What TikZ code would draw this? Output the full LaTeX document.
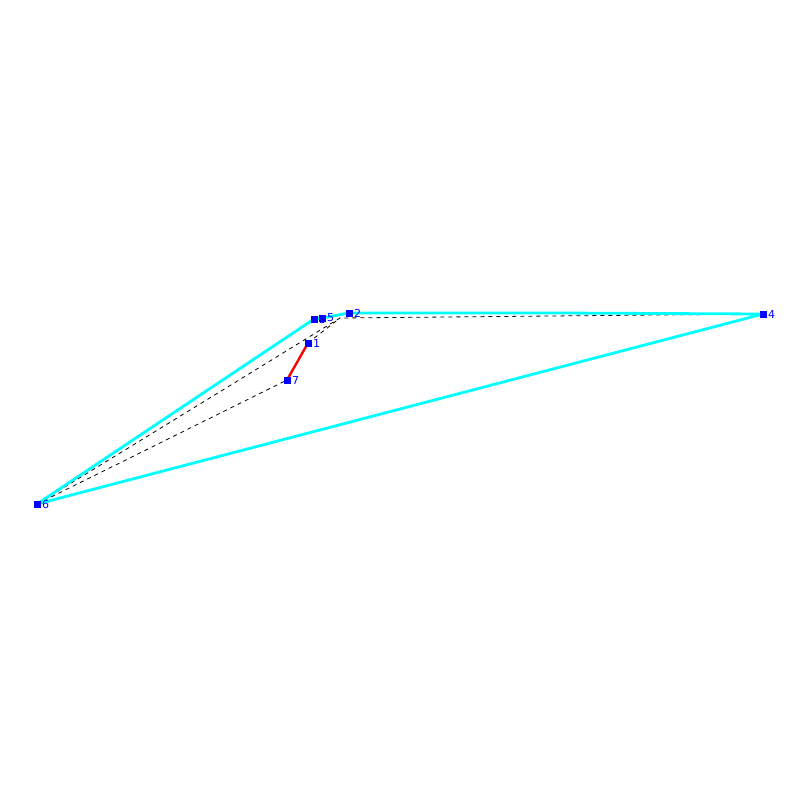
\documentclass[tikz,border=0pt]{standalone}
\usepackage{fontspec}
\setmainfont{DejaVu Sans}
\definecolor{hullc}{RGB}{0,255,255}
\definecolor{vblue}{RGB}{0,0,255}
\definecolor{segred}{RGB}{255,0,0}
\begin{document}
\begin{tikzpicture}[x=1pt,y=-1pt,
  vtx/.style={fill=vblue,draw=none,minimum size=7pt,inner sep=0pt,outer sep=0pt,
    label={[text=vblue,font=\fontsize{11}{11}\selectfont,inner sep=0pt,label distance=1.5pt,anchor=west]right:#1}},
  hull/.style={hullc,line width=2.8pt},
  aux/.style={black,line width=0.8pt,dash pattern=on 4pt off 4pt},
  seg/.style={segred,line width=2.4pt}]
\useasboundingbox (0,0) rectangle (800,800);
\coordinate (P) at (340,318);
\coordinate (K) at (555,313);
% dashed auxiliary lines
\draw[aux] (37,504) -- (P) -- (763,314);
\draw[aux] (37,504) -- (287,380);
\draw[aux] (308,343) -- (P);
% hull
\draw[hull,line join=round] (37,504) -- (314,319) -- (322,318) -- (349,313) -- (K) -- (763,314) -- cycle;
% red segment
\draw[seg] (287,380) -- (308,343);
% vertices
\node[vtx=3] (n3) at (314,319) {};
\node[vtx=1] (n1) at (308,343) {};
\node[vtx=2] (n2) at (349,313) {};
\node[vtx=4] (n4) at (763,314) {};
\node[vtx=5] (n5) at (322,318) {};
\node[vtx=6] (n6) at (37,504) {};
\node[vtx=7] (n7) at (287,380) {};
\end{tikzpicture}
\end{document}
